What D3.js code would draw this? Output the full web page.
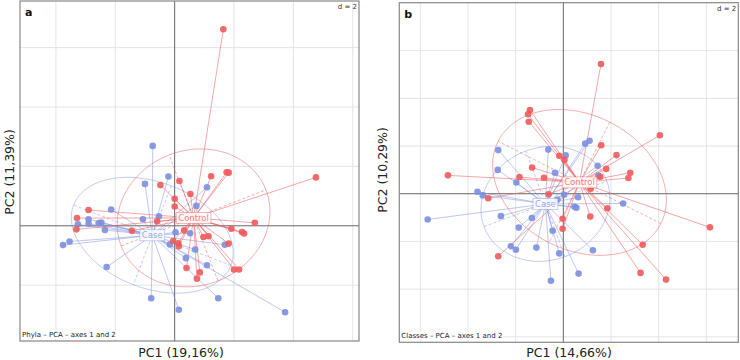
<!DOCTYPE html>
<html>
<head>
<meta charset="utf-8" />
<script src="https://d3js.org/d3.v7.min.js"></script>
<style>
  body { margin: 0; background: #fff; }
  text { font-family: "DejaVu Sans", sans-serif; }
</style>
</head>
<body>
<svg id="viz" width="740" height="360"></svg>
<script>
// panel a: phyla, PC1 x PC2 scores
var phylaCase = [
  [-0.74, 2.69], [-0.21, 1.66], [-1.00, 1.41], [1.09, 1.30], [0.73, 0.67],
  [-2.14, 0.55], [-2.90, 0.22], [-1.07, 0.22], [-0.53, 0.32], [-3.26, 0.05],
  [-2.90, 0.07], [-2.56, 0.09], [-2.47, 0.11], [-2.35, -0.14], [-3.54, -0.53],
  [-3.76, -0.65], [-2.29, -1.39], [0.03, -0.22], [0.52, -0.25], [-0.16, -0.63],
  [1.69, -0.64], [0.69, -0.80], [0.38, -1.09], [1.09, -1.33], [-0.79, -2.44],
  [0.14, -2.83], [1.47, -2.44], [3.72, -2.91]
];
var phylaControl = [
  [1.64, 6.62], [1.23, 1.67], [1.75, 1.80], [1.82, 1.79], [4.76, 1.63],
  [0.16, 1.51], [-0.48, 1.37], [0.53, 1.07], [0.00, 0.91], [0.00, 0.65],
  [-2.90, 0.53], [-3.29, 0.26], [-0.59, 0.15], [-3.31, -0.12], [-1.44, -0.17],
  [2.70, 0.10], [1.91, -0.10], [2.27, -0.21], [2.34, -0.26], [0.32, -0.15],
  [0.97, -0.38], [1.14, -0.35], [-0.05, -0.51], [0.12, -0.59], [0.14, -0.69],
  [1.82, -0.60], [0.40, -1.42], [0.85, -1.57], [0.75, -1.78], [2.00, -1.47],
  [2.17, -1.47]
];
// panel b: classes
var classesCase = [
  [0.92, 2.10], [1.10, 2.22], [-2.73, 1.83], [-0.63, 1.85], [0.10, 1.61],
  [1.44, 1.17], [-2.75, 1.00], [-0.35, 0.88], [1.47, 0.76], [-1.97, 0.47],
  [-3.60, 0.08], [-3.38, -0.07], [0.04, -0.04], [0.62, -0.15], [0.47, -0.55],
  [0.55, -0.59], [2.51, -0.41], [-2.62, -0.94], [-1.32, -1.02], [-5.69, -1.08],
  [-1.87, -1.42], [-0.45, -1.55], [-2.20, -2.20], [-1.99, -2.35], [-1.13, -2.26],
  [-0.17, -2.50], [1.24, -2.37], [0.64, -3.35], [-0.52, -3.65], [-0.25, -0.25]
];
var classesControl = [
  [1.58, 5.44], [-1.40, 3.51], [-1.48, 3.33], [-1.45, 3.02], [4.05, 2.45],
  [1.59, 2.03], [2.23, 1.62], [-0.17, 1.59], [0.05, 1.42], [-1.31, 1.10],
  [1.80, 1.04], [-4.84, 0.77], [2.81, 0.88], [2.73, 0.66], [-1.84, 0.70],
  [-0.81, 0.67], [1.55, 0.71], [1.15, 0.21], [-3.15, -0.19], [-0.62, -0.02],
  [1.85, -0.61], [1.13, -0.96], [-0.03, -1.05], [-0.03, -1.47], [6.15, -1.41],
  [3.33, -2.14], [-2.73, -2.62], [3.24, -3.32], [4.31, -3.60]
];

var groupNames = ["Case", "Control"];
var gridValues = [-6, -4, -2, 0, 2, 4, 6];

var colors = {
  Case: { dot: "#7b8fe0", line: "rgba(123,143,224,0.55)", ell: "rgba(123,143,224,0.5)" },
  Control: { dot: "#ef5a5c", line: "rgba(239,90,92,0.6)", ell: "rgba(239,90,92,0.55)" }
};

var panels = [
  {
    tag: "a", groups: [phylaCase, phylaControl],
    xDom: [-5.21, 6.21], yDom: [-3.88, 7.57],
    left: 20, right: 359, top: 1, bottom: 341,
    xLabel: "PC1 (19,16%)", yLabel: "PC2 (11,39%)",
    xLabelPos: [181, 357], yLabelPos: [14, 172],
    sub: "Phyla \u2013 PCA \u2013 axes 1 and 2"
  },
  {
    tag: "b", groups: [classesCase, classesControl],
    xDom: [-6.88, 7.34], yDom: [-6.23, 8.01],
    left: 399.3, right: 738.3, top: 2.7, bottom: 342.3,
    xLabel: "PC1 (14,66%)", yLabel: "PC2 (10,29%)",
    xLabelPos: [569, 357], yLabelPos: [387, 170],
    sub: "Classes \u2013 PCA \u2013 axes 1 and 2"
  }
];

var svg = d3.select("#viz");

function stats(pts) {
  var n = pts.length;
  var mx = d3.mean(pts, function(d) { return d[0]; });
  var my = d3.mean(pts, function(d) { return d[1]; });
  var vx = d3.sum(pts, function(d) { return (d[0] - mx) * (d[0] - mx); }) / n;
  var vy = d3.sum(pts, function(d) { return (d[1] - my) * (d[1] - my); }) / n;
  var cxy = d3.sum(pts, function(d) { return (d[0] - mx) * (d[1] - my); }) / n;
  // eigen decomposition of 2x2 covariance
  var tr = vx + vy, det = vx * vy - cxy * cxy;
  var disc = Math.sqrt(Math.max(tr * tr / 4 - det, 0));
  var l1 = tr / 2 + disc, l2 = tr / 2 - disc;
  var ang = Math.atan2(l1 - vx, cxy);
  if (Math.abs(cxy) < 1e-12) ang = vx >= vy ? 0 : Math.PI / 2;
  return { mx: mx, my: my, l1: l1, l2: l2, ang: ang };
}

panels.forEach(function(p) {
  var x = d3.scaleLinear().domain(p.xDom).range([p.left, p.right]);
  var y = d3.scaleLinear().domain(p.yDom).range([p.bottom, p.top]);
  var g = svg.append("g");

  g.append("rect")
    .attr("x", p.left).attr("y", p.top)
    .attr("width", p.right - p.left).attr("height", p.bottom - p.top)
    .attr("fill", "#fff");

  var gx = gridValues.filter(function(v) { return v > p.xDom[0] && v < p.xDom[1] && v !== 0; });
  var gy = gridValues.filter(function(v) { return v > p.yDom[0] && v < p.yDom[1] && v !== 0; });

  g.selectAll("line.gx").data(gx).enter().append("line")
    .attr("x1", function(d) { return x(d); }).attr("x2", function(d) { return x(d); })
    .attr("y1", p.top).attr("y2", p.bottom)
    .style("stroke", "#e3e3e8").style("stroke-width", 1);
  g.selectAll("line.gy").data(gy).enter().append("line")
    .attr("y1", function(d) { return y(d); }).attr("y2", function(d) { return y(d); })
    .attr("x1", p.left).attr("x2", p.right)
    .style("stroke", "#e3e3e8").style("stroke-width", 1);

  // zero axes
  g.append("line").attr("x1", x(0)).attr("x2", x(0)).attr("y1", p.top).attr("y2", p.bottom)
    .style("stroke", "#666").style("stroke-width", 1);
  g.append("line").attr("y1", y(0)).attr("y2", y(0)).attr("x1", p.left).attr("x2", p.right)
    .style("stroke", "#666").style("stroke-width", 1);

  var st = p.groups.map(stats);

  // ellipses and their axes
  p.groups.forEach(function(pts, i) {
    var s = st[i], c = colors[groupNames[i]];
    var a = 1.5 * Math.sqrt(s.l1), b = 1.5 * Math.sqrt(s.l2);
    var ca = Math.cos(s.ang), sa = Math.sin(s.ang);
    var ring = d3.range(0, 101).map(function(k) {
      var t = k / 100 * 2 * Math.PI;
      var u = a * Math.cos(t), v = b * Math.sin(t);
      return [x(s.mx + u * ca - v * sa), y(s.my + u * sa + v * ca)];
    });
    g.append("path").attr("d", d3.line()(ring))
      .attr("fill", "none").style("stroke", c.ell).style("stroke-width", 0.9);
    [[a * ca, a * sa], [-b * sa, b * ca]].forEach(function(ax) {
      g.append("line")
        .attr("x1", x(s.mx - ax[0])).attr("y1", y(s.my - ax[1]))
        .attr("x2", x(s.mx + ax[0])).attr("y2", y(s.my + ax[1]))
        .style("stroke", c.ell).style("stroke-width", 0.9)
        .style("stroke-dasharray", "3,2");
    });
  });

  // stars
  p.groups.forEach(function(pts, i) {
    var s = st[i], c = colors[groupNames[i]];
    g.selectAll(null).data(pts).enter().append("line")
      .attr("x1", function(d) { return x(d[0]); }).attr("y1", function(d) { return y(d[1]); })
      .attr("x2", x(s.mx)).attr("y2", y(s.my))
      .style("stroke", c.line).style("stroke-width", 0.9);
  });

  // points
  p.groups.forEach(function(pts, i) {
    var c = colors[groupNames[i]];
    g.selectAll(null).data(pts).enter().append("circle")
      .attr("cx", function(d) { return x(d[0]); }).attr("cy", function(d) { return y(d[1]); })
      .attr("r", 3.3)
      .style("fill", c.dot).style("fill-opacity", 0.9);
  });

  // class labels
  p.groups.forEach(function(pts, i) {
    var s = st[i], c = colors[groupNames[i]];
    var lab = g.append("g").attr("transform", "translate(" + x(s.mx) + "," + y(s.my) + ")");
    var t = lab.append("text").text(groupNames[i])
      .attr("text-anchor", "middle").attr("dy", "0.35em")
      .style("font-size", "8.5px").style("fill", c.dot).style("fill-opacity", 0.8);
    var w = t.node().getComputedTextLength();
    lab.insert("rect", "text")
      .attr("x", -w / 2 - 2).attr("y", -5.5).attr("width", w + 4).attr("height", 11)
      .attr("fill", "rgba(255,255,255,0.85)").style("stroke", c.ell).style("stroke-width", 0.8);
  });

  // frame
  g.append("rect")
    .attr("x", p.left).attr("y", p.top)
    .attr("width", p.right - p.left).attr("height", p.bottom - p.top)
    .attr("fill", "none").style("stroke", "#888").style("stroke-width", 1.2);

  g.append("text").text(p.tag)
    .attr("x", p.left + 5).attr("y", p.top + 15)
    .style("font-size", "11px").style("font-weight", "bold").style("fill", "#111");

  g.append("text").text("d = 2")
    .attr("x", p.right - 2).attr("y", p.top + 8)
    .attr("text-anchor", "end")
    .style("font-size", "7px").style("fill", "#333");

  var sub = g.append("text").text(p.sub)
    .attr("x", p.left + 2).attr("y", p.bottom - 4)
    .style("font-size", "7px").style("fill", "#222");
  var sw = sub.node().getComputedTextLength();
  g.insert("rect", function() { return sub.node(); })
    .attr("x", p.left + 1).attr("y", p.bottom - 11).attr("width", sw + 2).attr("height", 9)
    .attr("fill", "#fff");

  g.append("text").text(p.xLabel)
    .attr("x", p.xLabelPos[0]).attr("y", p.xLabelPos[1])
    .attr("text-anchor", "middle")
    .style("font-size", "12.5px").style("fill", "#222");
  g.append("text").text(p.yLabel)
    .attr("transform", "translate(" + p.yLabelPos[0] + "," + p.yLabelPos[1] + ") rotate(-90)")
    .attr("text-anchor", "middle")
    .style("font-size", "12.5px").style("fill", "#222");
});
</script>
</body>
</html>
